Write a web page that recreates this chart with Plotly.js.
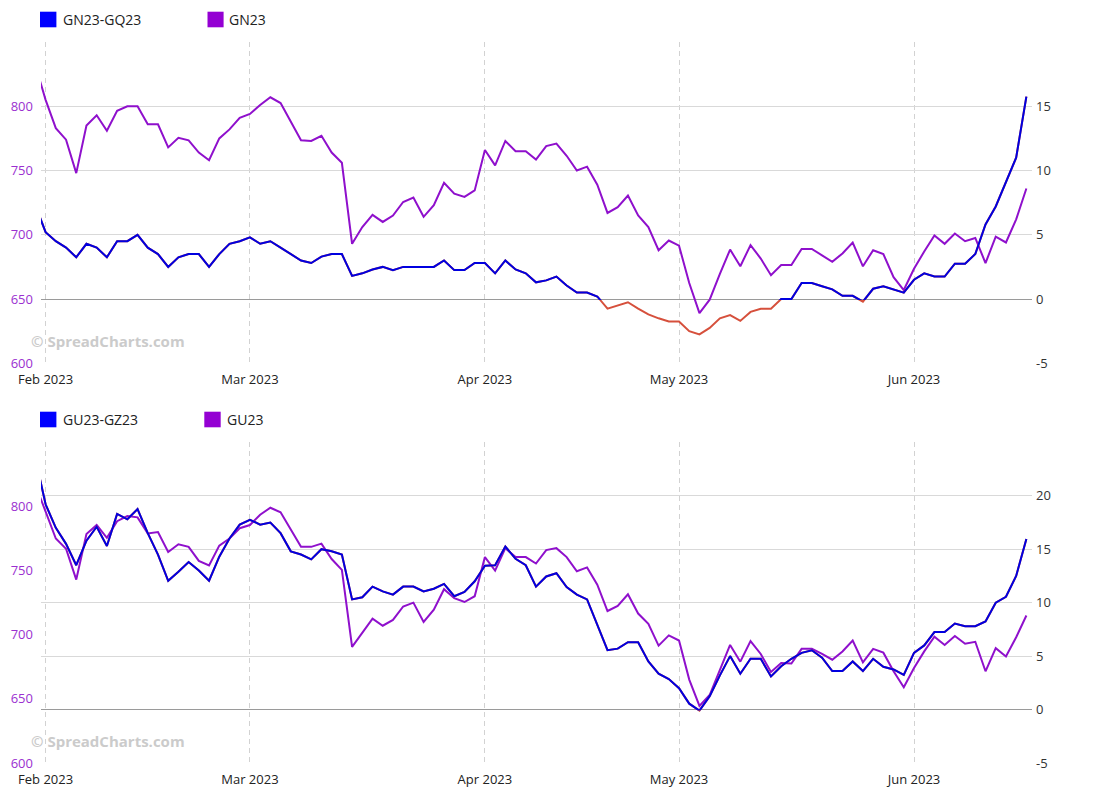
<!DOCTYPE html>
<html>
<head>
<meta charset="utf-8">
<script src="https://cdn.plot.ly/plotly-3.0.1.min.js"></script>
<style>html,body{margin:0;padding:0;background:#fff;}#chart{width:1115px;height:800px;}</style>
</head>
<body>
<div id="chart"></div>
<script>
// Trading days shown on the x axis
const dates = [
 '2023-01-31',
 '2023-02-01','2023-02-02','2023-02-03','2023-02-06','2023-02-07','2023-02-08','2023-02-09','2023-02-10',
 '2023-02-13','2023-02-14','2023-02-15','2023-02-16','2023-02-17','2023-02-20','2023-02-21','2023-02-22',
 '2023-02-23','2023-02-24','2023-02-27','2023-02-28',
 '2023-03-01','2023-03-02','2023-03-03','2023-03-06','2023-03-07','2023-03-08','2023-03-09','2023-03-10',
 '2023-03-13','2023-03-14','2023-03-15','2023-03-16','2023-03-17','2023-03-20','2023-03-21','2023-03-22',
 '2023-03-23','2023-03-24','2023-03-27','2023-03-28','2023-03-29','2023-03-30','2023-03-31',
 '2023-04-03','2023-04-04','2023-04-05','2023-04-06','2023-04-10','2023-04-11','2023-04-12','2023-04-13',
 '2023-04-14','2023-04-17','2023-04-18','2023-04-19','2023-04-20','2023-04-21','2023-04-24','2023-04-25',
 '2023-04-26','2023-04-27','2023-04-28',
 '2023-05-01','2023-05-02','2023-05-03','2023-05-04','2023-05-05','2023-05-08','2023-05-09','2023-05-10',
 '2023-05-11','2023-05-12','2023-05-15','2023-05-16','2023-05-17','2023-05-18','2023-05-19','2023-05-22',
 '2023-05-23','2023-05-24','2023-05-25','2023-05-26','2023-05-29','2023-05-30','2023-05-31',
 '2023-06-01','2023-06-02','2023-06-05','2023-06-06','2023-06-07','2023-06-08','2023-06-09','2023-06-12',
 '2023-06-13','2023-06-14','2023-06-15','2023-06-16'
];

// GN23-GQ23 spread (right axis, top chart)
const gnSpread = [
 7.3,
 5.2,4.5,4.0,3.25,4.3,4.0,3.25,4.5,4.5,5.0,4.0,3.5,2.5,3.25,3.5,3.5,2.5,3.5,4.3,4.5,
 4.8,4.3,4.5,4.0,3.5,3.0,2.8,3.3,3.5,3.5,1.8,2.0,2.3,2.5,2.25,2.5,2.5,2.5,2.5,3.0,2.25,2.25,2.8,
 2.8,2.0,3.0,2.3,2.0,1.3,1.45,1.75,1.05,0.5,0.5,0.2,-0.75,-0.5,-0.25,-0.75,-1.2,-1.5,-1.75,
 -1.75,-2.5,-2.75,-2.25,-1.5,-1.25,-1.7,-1.0,-0.75,-0.75,0,0,1.25,1.25,1.0,0.75,0.25,0.25,-0.2,0.8,1.0,0.75,0.5,
 1.5,2.0,1.75,1.75,2.75,2.75,3.5,5.8,7.2,9.1,11.0,15.75
];
// GN23 outright (left axis, top chart)
const gn23 = [
 832,
 805,783,774,748,785,793,781,796.5,800,800,786,786,768,775.5,773.5,764,758,775,782,791,
 794,801,807,802.5,788,773.5,773,777,764,756,693,706,715.5,710,715,725.5,729,714,723,740.5,732,729.5,734.5,
 766,754,773,765,765,758.5,769,771,761.5,750,753,739,717,721.5,730.5,715,706,688,695.5,
 691.5,662.5,639,649.5,669.5,688.5,675.5,692,681.5,668.5,676.5,676.5,689,689,684,679,685.5,694,675.5,688,685,667,657,
 673.5,687,699.5,693,701,695,697.5,678,698.5,694,712,736
];
// GU23-GZ23 spread (right axis, bottom chart)
const guSpread = [
 23.5,
 19.2,17.0,15.5,13.5,15.8,17.1,15.3,18.3,17.8,18.75,16.5,14.5,12.05,12.9,13.8,13.0,12.05,14.3,16.0,17.3,
 17.75,17.3,17.5,16.5,14.8,14.5,14.05,15.0,14.8,14.5,10.3,10.5,11.5,11.05,10.75,11.5,11.5,11.05,11.3,11.75,10.6,11.0,12.0,
 13.45,13.5,15.25,14.1,13.5,11.5,12.45,12.75,11.45,10.75,10.3,7.95,5.55,5.7,6.3,6.3,4.5,3.35,2.85,
 2.0,0.55,-0.1,1.25,3.2,5.0,3.35,4.75,4.75,3.1,4.05,4.75,5.3,5.55,4.85,3.6,3.6,4.5,3.6,4.75,4.0,3.75,3.25,
 5.3,6.0,7.25,7.25,8.05,7.8,7.8,8.25,10.0,10.55,12.5,15.95
];
// GU23 outright (left axis, bottom chart)
const gu23 = [
 817,
 796,775,767,743,778.5,785.5,775.5,788.5,792.5,791.5,779,780,764.5,770.5,768.5,757.5,754,769.5,775,783,
 785.5,793.5,799,795.5,782,768.5,768.5,771,759,750.5,690.5,702,712.5,707,711.5,722,725,710,719.5,735.5,728.5,725.5,730,
 760.5,750,767.5,760.5,760.5,755.5,766,767.5,760.5,749.5,752.5,739,718.5,722.5,731.5,716.5,708.5,691.5,699.5,
 695.5,665,644.5,653,672.5,692,679,695,685,671,678,677.5,689,689,685,680.5,687,695.5,678.5,689,686,671.5,659,
 674,687,698.5,692,699,693,694.5,671.5,689.5,683,698,715
];

const tickDates = ['2023-02-01','2023-03-01','2023-04-03','2023-05-01','2023-06-01'];
const tickText = ['Feb 2023','Mar 2023','Apr 2023','May 2023','Jun 2023'];
const priceTicks = [600,650,700,750,800];
const topSpreadTicks = [-5,0,5,10,15,20];
const topSpreadText = ['-5','0','5','10','15',''];
const botSpreadTicks = [-5,0,5,10,15,20,25];
const botSpreadText = ['-5','0','5','10','15','20',''];

const BLUE = '#0000e0', BLUE_KEY = '#0000ff';
const PURPLE = '#8f10cc', PURPLE_KEY = '#9400d3';
const RED = '#d6503c';

// page geometry
const W = 1115, H = 800, L = 41, R = 83, T = 42, B = 37;
const pw = W - L - R, ph = H - T - B;
const px2x = p => (p - L) / pw;
const py2y = p => (H - B - p) / ph;
const topD = [py2y(363.3), 1];
const botD = [0, py2y(442.3)];
const xr = [0.55, 97.55];
const clipLo = -0.08;
const topClip0 = topD[0] + (clipLo + 5) / 25 * (topD[1] - topD[0]);
const botClip0 = botD[0] + (clipLo + 5) / 30 * (botD[1] - botD[0]);

const lineW = 2;
const traces = [
  {x: dates, y: gn23, xaxis: 'x', yaxis: 'y', mode: 'lines', name: 'GN23', line: {color: PURPLE, width: lineW}},
  {x: dates, y: gnSpread, xaxis: 'x', yaxis: 'y2', mode: 'lines', name: 'GN23-GQ23 (neg)', line: {color: RED, width: lineW}},
  {x: dates, y: gnSpread, xaxis: 'x3', yaxis: 'y5', mode: 'lines', name: 'GN23-GQ23', line: {color: BLUE, width: lineW}},
  {x: dates, y: gu23, xaxis: 'x2', yaxis: 'y3', mode: 'lines', name: 'GU23', line: {color: PURPLE, width: lineW}},
  {x: dates, y: guSpread, xaxis: 'x2', yaxis: 'y4', mode: 'lines', name: 'GU23-GZ23 (neg)', line: {color: RED, width: lineW}},
  {x: dates, y: guSpread, xaxis: 'x4', yaxis: 'y6', mode: 'lines', name: 'GU23-GZ23', line: {color: BLUE, width: lineW}}
];

const fontFam = '"Open Sans", "Noto Sans", sans-serif';
const xBase = {
  type: 'category', categoryorder: 'array', categoryarray: dates, range: xr,
  tickvals: tickDates, ticktext: tickText, ticks: '', ticklabelstandoff: 7,
  showgrid: true, gridcolor: '#d2d2d2', gridwidth: 1, griddash: '5px,4px',
  zeroline: false, showline: false, fixedrange: true,
  tickfont: {family: fontFam, size: 13, color: '#222'}
};
const xHidden = {type: 'category', categoryorder: 'array', categoryarray: dates, range: xr, visible: false, fixedrange: true};
const priceAx = (dom, anchor) => ({
  domain: dom, anchor: anchor, range: [600, 850], tickvals: priceTicks, side: 'left',
  showgrid: false, zeroline: false, showline: false, ticks: '', ticklabelstandoff: 7,
  tickfont: {family: fontFam, size: 13, color: '#9b30d0'}, fixedrange: true
});
const spreadAx = (over, anchor, rng, tv, tt) => ({
  overlaying: over, anchor: anchor, side: 'right', range: rng, tickvals: tv, ticktext: tt,
  showgrid: true, gridcolor: '#d9d9d9', gridwidth: 1,
  zeroline: true, zerolinecolor: '#9a9a9a', zerolinewidth: 1,
  showline: false, ticks: '', ticklabelstandoff: 3,
  tickfont: {family: fontFam, size: 13, color: '#333'}, fixedrange: true
});

const sq = (x0, x1, y0, y1, c) => ({type: 'rect', xref: 'paper', yref: 'paper',
  x0: px2x(x0), x1: px2x(x1), y0: py2y(y1), y1: py2y(y0), fillcolor: c, line: {width: 0}});
const lab = (x, y, t) => ({xref: 'paper', yref: 'paper', x: px2x(x), y: py2y(y), xanchor: 'left', yanchor: 'middle',
  text: t, showarrow: false, font: {family: fontFam, size: 14, color: '#222'}});
const mark = y => ({xref: 'paper', yref: 'paper', x: px2x(29), y: py2y(y), xanchor: 'left', yanchor: 'middle',
  text: '© SpreadCharts.com', showarrow: false, font: {family: fontFam, size: 15, color: '#cbcbcb', weight: 'bold'}});

const layout = {
  width: W, height: H,
  margin: {l: L, r: R, t: T, b: B, pad: 0},
  paper_bgcolor: '#ffffff', plot_bgcolor: 'rgba(0,0,0,0)',
  showlegend: false, hovermode: false,
  font: {family: fontFam, size: 13, color: '#222'},
  xaxis: Object.assign({}, xBase, {anchor: 'y'}),
  xaxis2: Object.assign({}, xBase, {anchor: 'y3'}),
  xaxis3: Object.assign({}, xHidden, {anchor: 'y5'}),
  xaxis4: Object.assign({}, xHidden, {anchor: 'y6'}),
  yaxis: priceAx(topD, 'x'),
  yaxis2: spreadAx('y', 'x', [-5, 20], topSpreadTicks, topSpreadText),
  yaxis3: priceAx(botD, 'x2'),
  yaxis4: spreadAx('y3', 'x2', [-5, 25], botSpreadTicks, botSpreadText),
  yaxis5: {domain: [topClip0, topD[1]], anchor: 'x3', range: [clipLo, 20], visible: false, fixedrange: true},
  yaxis6: {domain: [botClip0, botD[1]], anchor: 'x4', range: [clipLo, 25], visible: false, fixedrange: true},
  shapes: [
    sq(40, 56.4, 11.7, 27.3, BLUE_KEY),
    sq(207.5, 223.6, 11.7, 27.3, PURPLE_KEY),
    sq(40, 56.4, 411.7, 427.3, BLUE_KEY),
    sq(204.3, 220.7, 411.7, 427.3, PURPLE_KEY)
  ],
  annotations: [
    lab(60.5, 19.5, 'GN23-GQ23'),
    lab(227, 19.5, 'GN23'),
    lab(60.5, 419.5, 'GU23-GZ23'),
    lab(224.8, 419.5, 'GU23'),
    mark(341),
    mark(741)
  ]
};

Plotly.newPlot('chart', traces, layout, {displayModeBar: false, staticPlot: true});
</script>
</body>
</html>
